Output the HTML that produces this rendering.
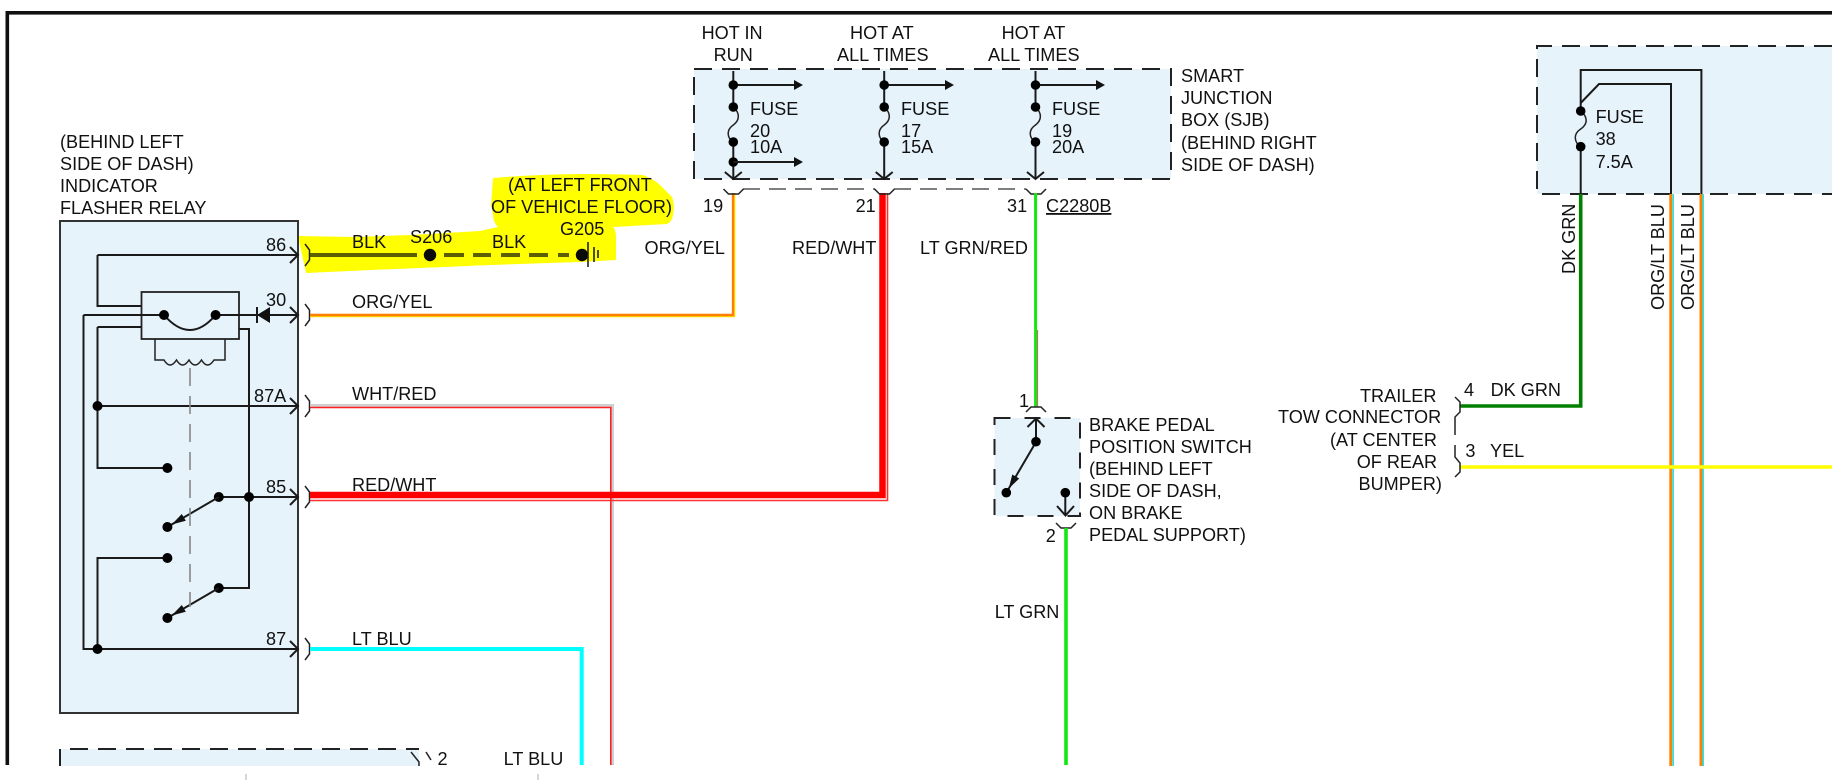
<!DOCTYPE html>
<html><head><meta charset="utf-8"><style>
html,body{margin:0;padding:0;background:#fff;width:1832px;height:780px;overflow:hidden}
svg{display:block}
text{font-family:"Liberation Sans",sans-serif;font-size:18.1px;fill:#111}
.k{fill:none;stroke:#1a1a1a;stroke-width:2}
.t{fill:none;stroke:#222;stroke-width:1.5}
.d{fill:none;stroke:#222;stroke-width:2;stroke-dasharray:18 10}
</style></head><body>
<svg width="1832" height="780" viewBox="0 0 1832 780" xmlns="http://www.w3.org/2000/svg">
<rect width="1832" height="780" fill="#fff"/>
<!-- frame -->
<rect x="5.5" y="11" width="1827" height="3.6" fill="#111"/>
<rect x="5.5" y="11" width="3.6" height="754" fill="#111"/>
<!-- highlight -->
<path fill="#ffff00" d="M298 236L353 237L411 235L480 231L498 227Q493 222 493 215L491 205L493 178Q560 172 643 175Q655 180 660 185L672 197Q675 205 673 215Q672 222 667 224L613 227Q616 230 616 237V260L580 262L491 265L371 270L306 273Z"/>

<!-- relay box -->
<rect x="60" y="221" width="238" height="492" fill="#e6f3fb" stroke="#333" stroke-width="2"/>
<path class="k" d="M290 247L298 255L290 263M97.5 255H298M97.5 255V306H141.5"/>
<rect x="141.5" y="292" width="97.5" height="47" fill="#e6f3fb" stroke="#222" stroke-width="1.8"/>
<path class="k" d="M83.5 315H164M215.6 315H298M290 307L298 315L290 323"/>
<path class="k" d="M164 315Q190 345 215.6 315"/>
<circle cx="164" cy="315" r="5"/><circle cx="215.6" cy="315" r="5"/>
<polygon points="257,315 270,307 270,323" fill="#111"/>
<path class="k" d="M257 307V323"/>
<path class="k" d="M97.5 327H141.5M97.5 327V468H167M83.5 315V649H298M290 641L298 649L290 657"/>
<path class="k" d="M97.5 649V558H167M97.5 406H298M290 398L298 406L290 414"/>
<circle cx="97.5" cy="406" r="5"/><circle cx="97.5" cy="649" r="5"/>
<circle cx="167.4" cy="468" r="5"/><circle cx="167.4" cy="558" r="5"/>
<path class="k" d="M239 329H249V588H219M219 497H298M290 489L298 497L290 505"/>
<circle cx="249" cy="497" r="5"/><circle cx="218.8" cy="497" r="5"/><circle cx="218.8" cy="588" r="5"/>
<path class="k" d="M218.8 497L167.4 527M218.8 588L167.4 618"/>
<polygon points="171.7,524.5 181.8,514 185.8,520.8" fill="#111"/>
<polygon points="171.7,615.5 181.8,605 185.8,611.8" fill="#111"/>
<circle cx="167.4" cy="527" r="5"/><circle cx="167.4" cy="618" r="5"/>
<path class="t" d="M155 339V360H164q6 10 12.5 0q6 10 12.5 0q6 10 12.5 0q6 10 12.5 0H225V339"/>
<path fill="none" stroke="#888" stroke-width="1.6" d="M190 368V607" style="stroke-dasharray:18 10"/>

<!-- connector brackets left -->
<path class="t" d="M305 244L309.5 250V260L305 266M305 304L309.5 310V320L305 326M305 395L309.5 401V411L305 417M305 486L309.5 492V502L305 508M305 638L309.5 644V654L305 660"/>

<!-- BLK wire -->
<path fill="none" stroke="#5c5c00" stroke-width="4" d="M310 255H417M444 255H464M473 255H491M501 255H520M529 255H548M558 255H569"/>
<circle cx="430" cy="255" r="6.2" fill="#0a0a0a"/><circle cx="582" cy="255" r="6.2" fill="#0a0a0a"/>
<path stroke="#222" stroke-width="1.6" fill="none" d="M588 242V267M594 247V262M598 250V258"/>

<!-- wires -->
<path fill="none" stroke="#ffe000" stroke-width="1.6" d="M310 316.4H734.5V193"/>
<path fill="none" stroke="#ff8000" stroke-width="2.4" d="M310 315H733V193"/>
<path fill="none" stroke="#cfcfcf" stroke-width="4" d="M310 406H612V765"/>
<path fill="none" stroke="#ff2020" stroke-width="1.6" d="M310 407.5H610.8V765"/>
<path fill="none" stroke="#ff0000" stroke-width="6.5" d="M310 495H882.5V193"/>
<path fill="none" stroke="#ff3030" stroke-width="1.6" d="M310 500.5H887.5V193"/>
<path fill="none" stroke="#00ffff" stroke-width="4" d="M310 649H581.7V765"/>

<!-- SJB -->
<rect x="694" y="69" width="477" height="110" fill="#e6f3fb"/>
<rect x="694" y="69" width="477" height="110" class="d"/>
<g id="c1">
<path class="k" d="M733.3 71V107M733.3 142V178M733.3 85H794M724.8 172L733.3 179L741.8 172"/>
<path class="t" d="M733.3 107C740 113 740 120 733.3 125C726 130 727 138 733.3 142"/>
<circle cx="733.3" cy="85" r="4.8"/><circle cx="733.3" cy="107" r="4.8"/><circle cx="733.3" cy="142" r="4.8"/>
<polygon points="794,80 803,85 794,90" fill="#111"/>
<circle cx="733.3" cy="162" r="4.8"/>
<path class="k" d="M733.3 162H794"/><polygon points="794,157 803,162 794,167" fill="#111"/>
</g>
<g id="c2">
<path class="k" d="M884.2 71V107M884.2 142V178M884.2 85H945M875.7 172L884.2 179L892.7 172"/>
<path class="t" d="M884.2 107C891 113 891 120 884.2 125C877 130 878 138 884.2 142"/>
<circle cx="884.2" cy="85" r="4.8"/><circle cx="884.2" cy="107" r="4.8"/><circle cx="884.2" cy="142" r="4.8"/>
<polygon points="945,80 954,85 945,90" fill="#111"/>
</g>
<g id="c3">
<path class="k" d="M1035.5 71V107M1035.5 142V178M1035.5 85H1096M1027 172L1035.5 179L1044 172"/>
<path class="t" d="M1035.5 107C1042 113 1042 120 1035.5 125C1028 130 1029 138 1035.5 142"/>
<circle cx="1035.5" cy="85" r="4.8"/><circle cx="1035.5" cy="107" r="4.8"/><circle cx="1035.5" cy="142" r="4.8"/>
<polygon points="1096,80 1105,85 1096,90" fill="#111"/>
</g>
<!-- connector strip -->
<path fill="none" stroke="#555" stroke-width="1.4" stroke-dasharray="17 9" d="M743 189H875M894 189H1026"/>
<path class="t" d="M723.5 189L728.5 194H738.5L743.5 189M874.5 189L879.5 194H889.5L894.5 189M1026 189L1031 194H1041L1046 189"/>

<!-- LT GRN/RED -->
<path stroke="#10e810" stroke-width="3" d="M1035.6 193V407"/>
<path stroke="#c06060" stroke-width="1" d="M1037.6 330V407"/>

<!-- brake switch -->
<rect x="994.5" y="418" width="85.5" height="98" fill="#e6f3fb"/>
<rect x="994.5" y="418" width="85.5" height="98" class="d" style="stroke-dasharray:16 14"/>
<path class="t" d="M1026 412L1031 407H1041L1046 412M1056 523L1061 528H1071L1076 523"/>
<path class="k" d="M1027.5 427L1036 418.5L1044.5 427M1036 419V442M1036 442L1006.3 492.7M1065.3 493V515M1057 506L1065.5 515.5L1074 506"/>
<polygon points="1008.7,488.6 1012.3,474.5 1019.2,478.5" fill="#111"/>
<circle cx="1036" cy="441.7" r="4.8"/><circle cx="1006.3" cy="492.7" r="4.8"/><circle cx="1065.3" cy="492.7" r="4.8"/>
<path stroke="#10e810" stroke-width="3.6" d="M1066 528V765"/>

<!-- right box -->
<rect x="1537" y="46" width="295" height="148" fill="#e6f3fb"/>
<path class="d" d="M1832 46H1537V194H1832"/>
<path class="k" d="M1580.7 194V146M1580.7 111V70H1701.4V194M1580.7 103L1599 84H1671V194"/>
<path class="t" d="M1580.7 111C1588 117 1588 124 1580.7 129C1573 134 1574 142 1580.7 147"/>
<circle cx="1580.7" cy="111" r="4.8"/><circle cx="1580.7" cy="146.7" r="4.8"/>

<path fill="none" stroke="#008000" stroke-width="3.6" d="M1580.7 194V406H1460"/>
<path stroke="#ff8000" stroke-width="3" d="M1670.8 194V766M1701 194V766"/>
<path stroke="#20e8f0" stroke-width="1.6" d="M1673.2 194V766M1703.2 194V766"/>
<path stroke="#ffff00" stroke-width="3.6" d="M1460 467H1832"/>
<path class="t" d="M1455 397L1460 402V412L1455 417V435M1455 445V457L1460 463V472L1455 477"/>

<!-- bottom partial box -->
<rect x="60" y="749" width="359" height="18" fill="#e6f3fb"/>
<path class="d" d="M60 767V749H419"/>
<path class="t" d="M411 752L419 762V767M426 752L431 760"/>

<!-- labels -->
<text x="60" y="148">(BEHIND LEFT</text>
<text x="60" y="170">SIDE OF DASH)</text>
<text x="60" y="192">INDICATOR</text>
<text x="60" y="214">FLASHER RELAY</text>
<text x="508" y="191">(AT LEFT FRONT</text>
<text x="491" y="213">OF VEHICLE FLOOR)</text>
<text x="352" y="248">BLK</text>
<text x="410" y="243">S206</text>
<text x="492" y="248">BLK</text>
<text x="560" y="235">G205</text>
<text x="266" y="251">86</text>
<text x="266" y="306">30</text>
<text x="254" y="402">87A</text>
<text x="266" y="493">85</text>
<text x="266" y="645">87</text>
<text x="352" y="308">ORG/YEL</text>
<text x="352" y="400">WHT/RED</text>
<text x="352" y="491">RED/WHT</text>
<text x="352" y="645">LT BLU</text>
<text x="437.5" y="765">2</text>
<text x="503.6" y="765">LT BLU</text>

<text x="701.6" y="39">HOT IN</text>
<text x="713.6" y="61">RUN</text>
<text x="850" y="39">HOT AT</text>
<text x="837" y="61">ALL TIMES</text>
<text x="1001.6" y="39">HOT AT</text>
<text x="988" y="61">ALL TIMES</text>
<text x="750" y="115">FUSE</text><text x="750" y="137">20</text><text x="750" y="153">10A</text>
<text x="901" y="115">FUSE</text><text x="901" y="137">17</text><text x="901" y="153">15A</text>
<text x="1052" y="115">FUSE</text><text x="1052" y="137">19</text><text x="1052" y="153">20A</text>
<text x="1181" y="82">SMART</text>
<text x="1181" y="104">JUNCTION</text>
<text x="1181" y="126">BOX (SJB)</text>
<text x="1181" y="149">(BEHIND RIGHT</text>
<text x="1181" y="171">SIDE OF DASH)</text>
<text x="703" y="212">19</text>
<text x="855.6" y="212">21</text>
<text x="1007" y="212">31</text>
<text x="1046" y="212" text-decoration="underline">C2280B</text>
<text x="644.5" y="254">ORG/YEL</text>
<text x="792" y="254">RED/WHT</text>
<text x="920" y="254">LT GRN/RED</text>

<text x="1019" y="407">1</text>
<text x="1045.7" y="542">2</text>
<text x="1089" y="431">BRAKE PEDAL</text>
<text x="1089" y="453">POSITION SWITCH</text>
<text x="1089" y="475">(BEHIND LEFT</text>
<text x="1089" y="497">SIDE OF DASH,</text>
<text x="1089" y="519">ON BRAKE</text>
<text x="1089" y="541">PEDAL SUPPORT)</text>
<text x="994.7" y="618">LT GRN</text>

<text x="1360" y="402">TRAILER</text>
<text x="1278" y="423">TOW CONNECTOR</text>
<text x="1330" y="446">(AT CENTER</text>
<text x="1356.7" y="468">OF REAR</text>
<text x="1358.5" y="490">BUMPER)</text>
<text x="1464" y="396">4</text>
<text x="1490.6" y="396">DK GRN</text>
<text x="1465.4" y="457">3</text>
<text x="1490" y="457">YEL</text>

<text x="1595.6" y="123">FUSE</text>
<text x="1595.6" y="145">38</text>
<text x="1595.6" y="168">7.5A</text>
<text transform="translate(1575,274) rotate(-90)" x="0" y="0">DK GRN</text>
<text transform="translate(1664,310) rotate(-90)" x="0" y="0">ORG/LT BLU</text>
<text transform="translate(1694,310) rotate(-90)" x="0" y="0">ORG/LT BLU</text>

<!-- bottom strip -->
<rect x="0" y="766" width="1832" height="14" fill="#fff"/>
<path stroke="#bbb" stroke-width="1.2" d="M246 774V780M538 774V780"/>
</svg>
</body></html>
